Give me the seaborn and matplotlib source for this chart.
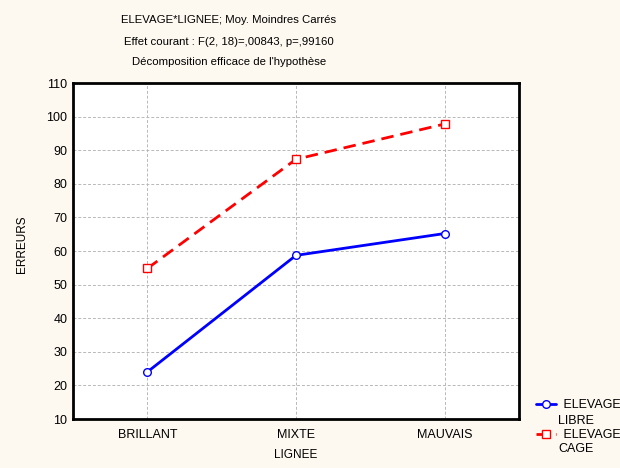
import matplotlib
matplotlib.use("Agg")
import matplotlib.pyplot as plt
import seaborn as sns
import pandas as pd

lignee = ["BRILLANT", "MIXTE", "MAUVAIS"]
libre = [24.0, 58.7, 65.2]
cage = [54.8, 87.3, 97.8]
yticks = [10, 20, 30, 40, 50, 60, 70, 80, 90, 100, 110]

sns.set_style("white")
plt.rcParams['font.family'] = ['Liberation Sans', 'DejaVu Sans']
plt.rcParams['text.color'] = 'black'
plt.rcParams['axes.labelcolor'] = 'black'

bg = "#FDF9F0"
fig = plt.figure(figsize=(6.2, 4.68), dpi=100, facecolor=bg)
ax = fig.add_axes([73/620, 1 - 419/468, (519-73)/620, (419-83)/468])
ax.set_facecolor("white")

df_l = pd.DataFrame({"LIGNEE": lignee, "ERREURS": libre})
df_c = pd.DataFrame({"LIGNEE": lignee, "ERREURS": cage})

sns.lineplot(data=df_l, x="LIGNEE", y="ERREURS", ax=ax, color="blue", lw=2,
             marker="o", markersize=5.5, markerfacecolor="white", markeredgecolor="blue",
             markeredgewidth=1, label=" ELEVAGE", sort=False)
sns.lineplot(data=df_c, x="LIGNEE", y="ERREURS", ax=ax, color="red", lw=2,
             marker="s", markersize=5.5, markerfacecolor="white", markeredgecolor="red",
             markeredgewidth=1, label=" ELEVAGE", sort=False, dashes=False,
             linestyle=(0, (4.5, 2.5)))

ax.set_xlim(-0.5, 2.5)
ax.set_ylim(10, 110)
ax.set_yticks(yticks)
ax.set_xticks(range(len(lignee)))
ax.set_xticklabels(lignee)
ax.grid(True, color="#b8b8b8", linestyle=(0, (3, 2)), linewidth=0.7)
for s in ax.spines.values():
    s.set_linewidth(2)
    s.set_color("black")
ax.tick_params(axis="both", labelsize=9, length=3, width=1, direction="in",
               colors="black")
ax.tick_params(axis="y", pad=4)
ax.tick_params(axis="x", pad=7)
ax.set_xlabel("LIGNEE", fontsize=8.5, labelpad=6)
ax.set_ylabel("ERREURS", fontsize=8.5, labelpad=12)
ax.yaxis.set_label_coords(-0.1, 0.52)

fig.text(229/620, 1 - 20/468, "ELEVAGE*LIGNEE; Moy. Moindres Carrés", ha="center", va="center", fontsize=8.2)
fig.text(229/620, 1 - 42/468, "Effet courant : F(2, 18)=,00843, p=,99160", ha="center", va="center", fontsize=8.2)
fig.text(229/620, 1 - 62/468, "Décomposition efficace de l'hypothèse", ha="center", va="center", fontsize=8.2)

ax.legend(loc="upper left", bbox_to_anchor=(536/620, 1 - 399/468), bbox_transform=fig.transFigure,
          frameon=False, fontsize=9, handlelength=1.6, handletextpad=0.3, labelspacing=1.45,
          borderpad=0, borderaxespad=0)
fig.text(558/620, 1 - 421/468, "LIBRE", ha="left", va="center", fontsize=9)
fig.text(558/620, 1 - 449/468, "CAGE", ha="left", va="center", fontsize=9)

fig.savefig("out.png", dpi=100, facecolor=bg)
